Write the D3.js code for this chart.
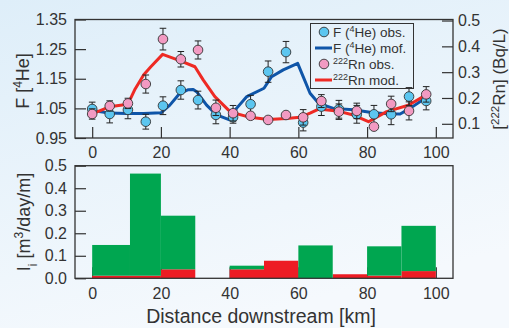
<!DOCTYPE html>
<html>
<head>
<meta charset="utf-8">
<style>
  body { margin: 0; padding: 0; }
  text { font-family: "Liberation Sans", Arial, Helvetica, sans-serif; fill: #333; }
</style>
</head>
<body>
<div id="chart"></div>
<script src="https://cdnjs.cloudflare.com/ajax/libs/d3/7.8.5/d3.min.js"></script>
<script>
// sample sites along the river [km]
var dist = [0, 5.1, 10.4, 15.6, 20.6, 25.8, 30.8, 36, 41, 46.1, 51.2, 56.4, 61.4, 66.7, 71.8, 77, 82, 87, 92.2, 97.2];
// F(4He) observed and its error
var heObs = [1.048, 1.031, 1.045, 1.005, 1.059, 1.112, 1.078, 1.028, 1.020, 1.064, 1.174, 1.240, 1.002, 1.056, 1.047, 1.030, 1.030, 1.030, 1.090, 1.075];
var heErr = [0.023, 0.03, 0.03, 0.025, 0.03, 0.031, 0.03, 0.03, 0.02, 0.03, 0.036, 0.036, 0.028, 0.03, 0.03, 0.03, 0.03, 0.035, 0.03, 0.03];
// 222Rn observed [Bq/L] and its error
var rnObs = [0.138, 0.169, 0.179, 0.254, 0.428, 0.350, 0.386, 0.162, 0.141, 0.131, 0.115, 0.134, 0.125, 0.188, 0.147, 0.150, 0.089, 0.177, 0.150, 0.214];
var rnErr = [0.02, 0.02, 0.02, 0.035, 0.042, 0.03, 0.035, 0.03, 0.03, 0, 0, 0, 0.03, 0.025, 0.03, 0.03, 0, 0.03, 0.035, 0.03];
// model curves
var heModX = [0, 5, 10, 15, 20, 22.6, 25.5, 28, 29.4, 30.5, 33.3, 36.2, 40, 42, 45, 50, 52.2, 55.6, 59.8, 61.4, 63.4, 65.9, 70.2, 76, 81.8, 86, 89.6, 92.5, 96.9, 97.2];
var heModY = [1.043, 1.034, 1.033, 1.033, 1.035, 1.061, 1.101, 1.113, 1.114, 1.105, 1.061, 1.028, 1.011, 1.050, 1.090, 1.118, 1.157, 1.180, 1.202, 1.157, 1.101, 1.067, 1.050, 1.045, 1.035, 1.032, 1.031, 1.050, 1.084, 1.089];
var rnModX = [0, 5, 10.4, 12.5, 15, 17, 20.5, 25.5, 29.9, 32.3, 35.7, 39.6, 41, 46, 51.2, 56.5, 60.5, 63.4, 65.9, 71.2, 76, 80.4, 85.7, 92, 97.2];
var rnModY = [0.138, 0.166, 0.176, 0.235, 0.29, 0.32, 0.369, 0.345, 0.321, 0.27, 0.205, 0.154, 0.143, 0.125, 0.117, 0.121, 0.125, 0.141, 0.157, 0.150, 0.134, 0.108, 0.147, 0.172, 0.212];
// inflow per reach [m3/day/m]
var binEdges = [0, 11, 20, 30, 40, 50, 60, 70, 80, 90, 100];
var inflowRn = [0.0115, 0.0115, 0.040, 0, 0.040, 0.078, 0, 0.018, 0.012, 0.032];
var inflowHe = [0.1365, 0.4535, 0.238, 0, 0.016, 0, 0.146, 0, 0.130, 0.201];
var xTicks = [0, 20, 40, 60, 80, 100];
var fTicks = [0.95, 1.05, 1.15, 1.25, 1.35];
var rnTicks = [0.1, 0.2, 0.3, 0.4, 0.5];
var iTicks = [0, 0.1, 0.2, 0.3, 0.4, 0.5];

var W = 509, H = 328;
var svg = d3.select('#chart').append('svg').attr('width', W).attr('height', H);

var grad = svg.append('defs').append('linearGradient').attr('id', 'bg')
  .attr('x1', 0).attr('y1', 0).attr('x2', 0.4).attr('y2', 1);
grad.append('stop').attr('offset', 0).attr('stop-color', '#deeef9');
grad.append('stop').attr('offset', 1).attr('stop-color', '#f5f9fd');
svg.append('rect').attr('width', W).attr('height', H).attr('fill', 'url(#bg)');

var x = d3.scaleLinear().domain([-5, 105]).range([75, 453]);
var yF = d3.scaleLinear().domain([0.95, 1.35]).range([138, 19.5]);
var yRn = d3.scaleLinear().domain([0.045, 0.504]).range([138, 19.5]);
var yI = d3.scaleLinear().domain([0, 0.5]).range([278.3, 165.7]);

var blue = '#0f55a8', red = '#ee2a24';

function styleAxis(g, size) {
  g.select('.domain').remove();
  g.selectAll('line').attr('stroke', '#333').attr('stroke-width', 1.2);
  g.selectAll('text').style('font-size', size + 'px').attr('fill', '#333')
    .style('font-family', '"Liberation Sans", Arial, sans-serif');
}

// ---------- top panel ----------
svg.append('g').attr('transform', 'translate(75,0)')
  .call(d3.axisLeft(yF).tickValues(fTicks).tickFormat(d3.format('.2f')).tickSize(-11).tickPadding(8))
  .call(styleAxis, 16);
svg.append('g').attr('transform', 'translate(453,0)')
  .call(d3.axisRight(yRn).tickValues(rnTicks).tickFormat(d3.format('.1f')).tickSize(-11).tickPadding(5))
  .call(styleAxis, 16);
svg.append('g').attr('transform', 'translate(0,138)')
  .call(d3.axisBottom(x).tickValues(xTicks).tickSize(-11).tickPadding(9))
  .call(styleAxis, 16);

var heLine = d3.line().x(function(d) { return x(d[0]); }).y(function(d) { return yF(d[1]); });
var rnLine = d3.line().x(function(d) { return x(d[0]); }).y(function(d) { return yRn(d[1]); });
svg.append('path').datum(d3.zip(heModX, heModY)).attr('d', heLine)
  .attr('fill', 'none').attr('stroke', blue).attr('stroke-width', 3).attr('stroke-linejoin', 'round');
svg.append('path').datum(d3.zip(rnModX, rnModY)).attr('d', rnLine)
  .attr('fill', 'none').attr('stroke', red).attr('stroke-width', 3).attr('stroke-linejoin', 'round');

function drawPoints(vals, errs, yScale, fill) {
  var g = svg.append('g');
  var pts = g.selectAll('g').data(d3.zip(dist, vals, errs)).enter().append('g');
  pts.filter(function(d) { return d[2] > 0; }).append('path')
    .attr('d', function(d) {
      var cx = x(d[0]), t = yScale(d[1] + d[2]), b = yScale(d[1] - d[2]);
      return 'M' + (cx - 3.3) + ',' + t + 'H' + (cx + 3.3) + 'M' + cx + ',' + t + 'V' + b +
             'M' + (cx - 3.3) + ',' + b + 'H' + (cx + 3.3);
    })
    .attr('stroke', '#222').attr('stroke-width', 1).attr('fill', 'none');
  pts.append('circle')
    .attr('cx', function(d) { return x(d[0]); })
    .attr('cy', function(d) { return yScale(d[1]); })
    .attr('r', 4.8).attr('fill', fill).attr('stroke', '#333').attr('stroke-width', 0.9);
}
drawPoints(heObs, heErr, yF, '#5cc6f0');
drawPoints(rnObs, rnErr, yRn, '#f29ac2');

svg.append('rect').attr('x', 75).attr('y', 19.5).attr('width', 378).attr('height', 118.5)
  .attr('fill', 'none').attr('stroke', '#333').attr('stroke-width', 1.3);

// legend
var leg = svg.append('g');
leg.append('rect').attr('x', 310.5).attr('y', 23.5).attr('width', 103).attr('height', 65)
  .attr('fill', 'none').attr('stroke', '#333').attr('stroke-width', 1);
var legItems = [
  {type: 'pt', color: '#5cc6f0', pre: 'F (', sup: '4', post: 'He) obs.'},
  {type: 'ln', color: blue, pre: 'F (', sup: '4', post: 'He) mof.'},
  {type: 'pt', color: '#f29ac2', pre: '', sup: '222', post: 'Rn obs.'},
  {type: 'ln', color: red, pre: '', sup: '222', post: 'Rn mod.'}
];
legItems.forEach(function(it, i) {
  var cy = 32 + i * 16;
  if (it.type === 'pt') {
    leg.append('circle').attr('cx', 324).attr('cy', cy).attr('r', 4.8)
      .attr('fill', it.color).attr('stroke', '#333').attr('stroke-width', 0.9);
  } else {
    leg.append('line').attr('x1', 315).attr('x2', 332).attr('y1', cy).attr('y2', cy)
      .attr('stroke', it.color).attr('stroke-width', 3);
  }
  var t = leg.append('text').attr('x', 333).attr('y', cy + 5).style('font-size', '13.5px');
  if (it.pre) t.append('tspan').text(it.pre);
  t.append('tspan').attr('baseline-shift', 'super').style('font-size', '9px').text(it.sup);
  t.append('tspan').text(it.post);
});

// ---------- bottom panel ----------
svg.append('g').attr('transform', 'translate(75,0)')
  .call(d3.axisLeft(yI).tickValues(iTicks).tickFormat(d3.format('.1f')).tickSize(-11).tickPadding(8))
  .call(styleAxis, 16);
svg.append('g').attr('transform', 'translate(0,278.3)')
  .call(d3.axisBottom(x).tickValues(xTicks).tickSize(-11).tickPadding(9))
  .call(styleAxis, 16);

var bins = inflowRn.map(function(r, i) {
  return {x0: binEdges[i], x1: binEdges[i + 1], rn: r, he: inflowHe[i]};
});
var stack = d3.stack().keys(['rn', 'he'])(bins);
var colors = {rn: '#ed1c24', he: '#00a650'};
svg.append('g').selectAll('g').data(stack).enter().append('g')
  .attr('fill', function(s) { return colors[s.key]; })
  .selectAll('rect').data(function(s) { return s; }).enter()
  .filter(function(d) { return d[1] - d[0] > 0; })
  .append('rect')
  .attr('x', function(d) { return x(d.data.x0); })
  .attr('width', function(d) { return x(d.data.x1) - x(d.data.x0); })
  .attr('y', function(d) { return yI(d[1]); })
  .attr('height', function(d) { return yI(d[0]) - yI(d[1]); });

svg.append('rect').attr('x', 75).attr('y', 165.7).attr('width', 378).attr('height', 112.6)
  .attr('fill', 'none').attr('stroke', '#333').attr('stroke-width', 1.3);

// ---------- axis titles ----------
svg.append('text').attr('x', 261).attr('y', 322.5).attr('text-anchor', 'middle')
  .style('font-size', '19.5px').text('Distance downstream [km]');

var tF = svg.append('text').attr('transform', 'translate(29,81) rotate(-90)')
  .attr('text-anchor', 'middle').style('font-size', '18px');
tF.append('tspan').text('F [');
tF.append('tspan').attr('baseline-shift', 'super').style('font-size', '12px').text('4');
tF.append('tspan').text('He]');

var tI = svg.append('text').attr('transform', 'translate(30,222) rotate(-90)')
  .attr('text-anchor', 'middle').style('font-size', '18px');
tI.append('tspan').text('I');
tI.append('tspan').attr('baseline-shift', 'sub').style('font-size', '12px').text('i');
tI.append('tspan').text(' [m');
tI.append('tspan').attr('baseline-shift', 'super').style('font-size', '12px').text('3');
tI.append('tspan').text('/day/m]');

var tR = svg.append('text').attr('transform', 'translate(504.5,79) rotate(-90)')
  .attr('text-anchor', 'middle').style('font-size', '17px');
tR.append('tspan').text('[');
tR.append('tspan').attr('baseline-shift', 'super').style('font-size', '11.5px').text('222');
tR.append('tspan').text('Rn] (Bq/L)');
</script>
</body>
</html>
